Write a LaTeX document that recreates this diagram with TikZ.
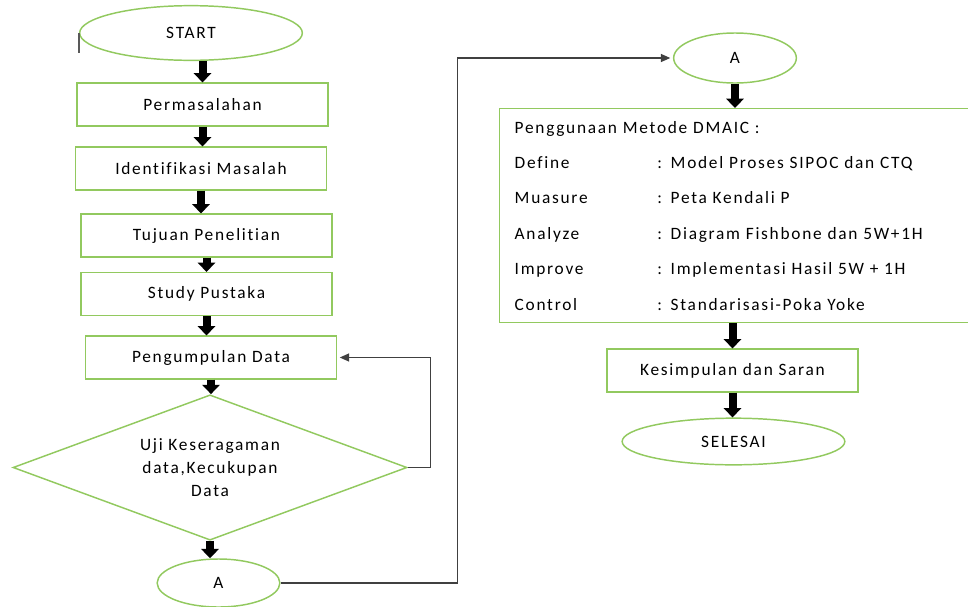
\documentclass[tikz,border=0pt]{standalone}
\usepackage{fontspec}
\setmainfont[LetterSpace=10,Ligatures=NoCommon]{Carlito}
\usepackage{tikz}
\usetikzlibrary{positioning, calc}
\usetikzlibrary{arrows.meta, shapes.geometric}
\definecolor{flowgreen}{RGB}{146,201,95}
\tikzstyle{ovalbox}=[ellipse,draw=flowgreen,line width=1.1pt,inner sep=0pt]
\tikzstyle{rectbox}=[rectangle,draw=flowgreen,line width=1.1pt,minimum width=188pt,minimum height=32pt,inner sep=0pt]
\tikzstyle{diamondbox}=[diamond,draw=flowgreen,line width=1.1pt,inner sep=0pt,aspect=2.72,align=center,minimum width=295.5pt,minimum height=109pt,font=\fontsize{13}{17}\selectfont]
\tikzstyle{arrowpath}=[-{Triangle[width=13pt,length=7pt]},line width=6pt,black]
\tikzstyle{linepath}=[-{Triangle[width=6pt,length=7pt]},line width=0.9pt,black!75,shorten >=2pt]
\newcommand{\dmaicrow}[2]{\makebox[107pt][l]{#1}: #2}

\begin{document}
\begin{tikzpicture}[x=0.75pt,y=-0.75pt,font=\fontsize{13}{16}\selectfont]
        \useasboundingbox (0,0) rectangle (968,607);

        \node[ovalbox, minimum width=167pt, minimum height=41pt] (start) at (191,33) {START};
        \node[rectbox] (masalah) at (202.5,104.5) {Permasalahan};
        \node[rectbox] (identifikasi) at (201,168.5) {Identifikasi Masalah};
        \node[rectbox] (tujuan) at (206.5,235.5) {Tujuan Penelitian};
        \node[rectbox] (pustaka) at (206.5,294) {Study Pustaka};
        \node[rectbox] (data) at (211,357.5) {Pengumpulan Data};
        \node[diamondbox] (uji) at (210,467.5) {Uji Keseragaman\\data,Kecukupan\\Data};
        \node[ovalbox, minimum width=92pt, minimum height=36pt] (a1) at (218.5,583) {A};

        \node[ovalbox, minimum width=92pt, minimum height=37.5pt] (a2) at (735,58) {A};
        \node[rectbox, anchor=north west, text width=334.5pt, inner xsep=11.25pt,
              minimum height=160.5pt, align=left, font=\fontsize{13}{26.6}\selectfont]
            (dmaic) at (499,108) {Penggunaan Metode DMAIC :\\
            \dmaicrow{Define}{Model Proses SIPOC dan CTQ}\\
            \dmaicrow{Muasure}{Peta Kendali P}\\
            \dmaicrow{Analyze}{Diagram Fishbone dan 5W+1H}\\
            \dmaicrow{Improve}{Implementasi Hasil 5W + 1H}\\
            \dmaicrow{Control}{Standarisasi-Poka Yoke}};
        \node[rectbox] (simpulan) at (732.5,370.5) {Kesimpulan dan Saran};
        \node[ovalbox, minimum width=167pt, minimum height=35pt] (selesai) at (733.5,441.5) {SELESAI};

        \draw[black!65, line width=1pt] (start.west) -- ++(0,20);

        \draw[arrowpath] (masalah.north |- start.south) -- (masalah.north);
        \draw[arrowpath] (masalah.south) -- (masalah.south |- identifikasi.north);
        \draw[arrowpath] (identifikasi.south) -- (identifikasi.south |- tujuan.north);
        \draw[arrowpath] (tujuan.south) -- (tujuan.south |- pustaka.north);
        \draw[arrowpath] (pustaka.south) -- (pustaka.south |- data.north);
        \draw[arrowpath] (data.south) -- (data.south |- uji.north);
        \draw[arrowpath] (uji.south) -- (uji.south |- a1.north);
        \draw[arrowpath] (a2.south) -- (a2.south |- dmaic.north);
        \draw[arrowpath] (simpulan.north |- dmaic.south) -- (simpulan.north);
        \draw[arrowpath] (simpulan.south) -- (simpulan.south |- selesai.north);

        \draw[linepath] (uji.east) -- ++(23,0) |- (data.east);
        \draw[linepath] (a1.east) -- ++(177,0) |- (a2.west);
    \end{tikzpicture}
\end{document}
